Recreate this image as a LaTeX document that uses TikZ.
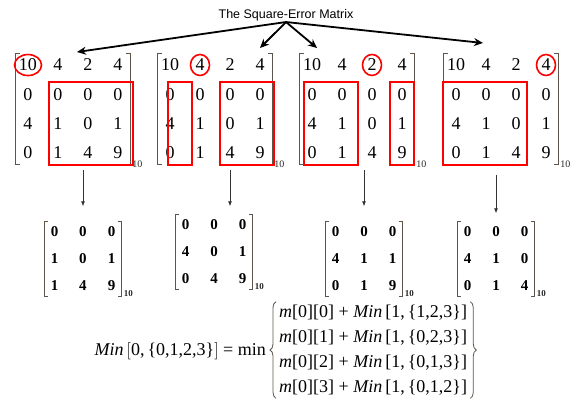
\documentclass[tikz,border=0pt]{standalone}
\usepackage{fontspec}
\setmainfont{Liberation Serif}
\newfontfamily\titlefont{Liberation Sans}
\usetikzlibrary{arrows.meta,matrix,fit,shapes.geometric,decorations.pathreplacing}

\definecolor{brk}{RGB}{95,85,75}

\tikzset{
  bigmat/.style={matrix of nodes, inner sep=0pt, column sep=6pt, row sep=7.3pt,
    nodes={minimum width=24pt, minimum height=22pt, inner sep=0pt, font=\fontsize{18}{18}\selectfont}},
  smallmat/.style={matrix of nodes, inner sep=0pt, column sep=8.5pt, row sep=6pt,
    nodes={minimum width=20pt, minimum height=21pt, inner sep=0pt, font=\fontsize{15}{15}\selectfont\bfseries}},
  redbox/.style={draw=red, line width=2pt, inner xsep=0pt, inner ysep=1pt},
  ring/.style={draw=red, line width=1.6pt, ellipse, minimum width=19pt, minimum height=21pt, inner sep=0pt},
  brkline/.style={draw=brk, line width=0.8pt},
  sub/.style={font=\fontsize{10}{10}\selectfont, inner sep=0pt, text=black!85},
  subbold/.style={font=\fontsize{9}{9}\selectfont\bfseries, inner sep=0pt, text=black!85},
  toparr/.style={-{Stealth[length=9pt,width=8pt]}, line width=1.8pt},
  downarr/.style={-{Latex[length=5pt,width=4pt]}, line width=0.7pt, draw=black!80},
  eqtext/.style={font=\fontsize{18}{25}\selectfont, inner sep=0pt},
  curly/.style={decorate, decoration={brace, amplitude=6pt}, line width=0.8pt, draw=brk},
}

% square brackets round a matrix node
\newcommand{\mbrackets}[2]{%
  \draw[brkline] ([xshift=#2]#1.north west) -- (#1.north west) -- (#1.south west) -- ([xshift=#2]#1.south west);
  \draw[brkline] ([xshift=-#2]#1.north east) -- (#1.north east) -- (#1.south east) -- ([xshift=-#2]#1.south east);}

\begin{document}
\begin{tikzpicture}[x=1pt, y=-1pt]
  \useasboundingbox (0,0) rectangle (573,400);

  \node[font=\titlefont\fontsize{12.5}{13}\selectfont, inner sep=1pt] (title) at (286,15) {The Square-Error Matrix};

  % the four copies of the matrix
  \matrix (B1) [bigmat] at (73,109) {10 & 4 & 2 & 4\\ 0 & 0 & 0 & 0\\ 4 & 1 & 0 & 1\\ 0 & 1 & 4 & 9\\};
  \matrix (B2) [bigmat] at (215,109) {10 & 4 & 2 & 4\\ 0 & 0 & 0 & 0\\ 4 & 1 & 0 & 1\\ 0 & 1 & 4 & 9\\};
  \matrix (B3) [bigmat] at (357,109) {10 & 4 & 2 & 4\\ 0 & 0 & 0 & 0\\ 4 & 1 & 0 & 1\\ 0 & 1 & 4 & 9\\};
  \matrix (B4) [bigmat] at (501,109) {10 & 4 & 2 & 4\\ 0 & 0 & 0 & 0\\ 4 & 1 & 0 & 1\\ 0 & 1 & 4 & 9\\};
  \mbrackets{B1}{4pt}
  \mbrackets{B2}{4pt}
  \mbrackets{B3}{4pt}
  \mbrackets{B4}{4pt}
  \node[sub, anchor=west] (B1n) at ([xshift=2pt,yshift=0.5pt]B1.south east) {10};
  \node[sub, anchor=west] (B2n) at ([xshift=2pt,yshift=0.5pt]B2.south east) {10};
  \node[sub, anchor=west] (B3n) at ([xshift=2pt,yshift=0.5pt]B3.south east) {10};
  \node[sub, anchor=west] (B4n) at ([xshift=2pt,yshift=0.5pt]B4.south east) {10};

  % chosen entries
  \node[ring, minimum width=27pt] (c1) at (B1-1-1) {};
  \node[ring] (c2) at (B2-1-2) {};
  \node[ring] (c3) at (B3-1-3) {};
  \node[ring] (c4) at (B4-1-4) {};

  % sub-matrices kept
  \node[redbox, fit=(B1-2-2)(B1-4-4), xshift=3pt] (r1) {};
  \node[redbox, fit=(B2-2-1)(B2-4-1), xshift=10pt] (r2a) {};
  \node[redbox, fit=(B2-2-3)(B2-4-4), xshift=2pt] (r2b) {};
  \node[redbox, fit=(B3-2-1)(B3-4-2), xshift=4pt] (r3a) {};
  \node[redbox, fit=(B3-2-4)(B3-4-4)] (r3b) {};
  \node[redbox, fit=(B4-2-1)(B4-4-3), xshift=-1pt] (r4) {};

  % reduced matrices
  \matrix (S1) [smallmat] at (83,259) {0 & 0 & 0\\ 1 & 0 & 1\\ 1 & 4 & 9\\};
  \matrix (S2) [smallmat] at (214,252) {0 & 0 & 0\\ 4 & 0 & 1\\ 0 & 4 & 9\\};
  \matrix (S3) [smallmat] at (364,259) {0 & 0 & 0\\ 4 & 1 & 1\\ 0 & 1 & 9\\};
  \matrix (S4) [smallmat] at (496,259) {0 & 0 & 0\\ 4 & 1 & 0\\ 0 & 1 & 4\\};
  \mbrackets{S1}{4pt}
  \mbrackets{S2}{4pt}
  \mbrackets{S3}{4pt}
  \mbrackets{S4}{4pt}
  \node[subbold, anchor=west] (S1n) at ([xshift=2pt,yshift=3.5pt]S1.south east) {10};
  \node[subbold, anchor=west] (S2n) at ([xshift=2pt,yshift=3.5pt]S2.south east) {10};
  \node[subbold, anchor=west] (S3n) at ([xshift=2pt,yshift=3.5pt]S3.south east) {10};
  \node[subbold, anchor=west] (S4n) at ([xshift=2pt,yshift=3.5pt]S4.south east) {10};

  % arrows from the title
  \coordinate (t1) at (77,52);
  \coordinate (t2) at (260,48);
  \coordinate (t3) at (317,48);
  \coordinate (t4) at (483,43);
  \draw[toparr] (title.south) -- (t1);
  \draw[toparr] (title.south) -- (t2);
  \draw[toparr] (title.south) -- (t3);
  \draw[toparr] (title.south) -- (t4);

  % arrows down to the reduced matrices
  \draw[downarr, shorten <=6pt, shorten >=15pt] (B1.south -| S1.north) -- (S1.north);
  \draw[downarr, shorten <=6pt, shorten >=8pt] (B2-4-3 |- B2.south) -- (B2-4-3 |- S2.north);
  \draw[downarr, shorten <=6pt, shorten >=15pt] (B3.south -| S3.north) -- (S3.north);
  \draw[downarr, shorten <=11pt, shorten >=8pt] (B4.south -| S4.north) -- (S4.north);

  % the recurrence
  \node[eqtext, anchor=east] (lhs) at (266,351)
    {\textit{Min}\,$\bigl[$0,\,\{0,1,2,3\}$\bigr]$ = min};
  \node[eqtext, anchor=west, align=left, inner ysep=3pt] (rhs) at (279,350)
    {\textit{m}[0][0] + \textit{Min}\,[1,\,\{1,2,3\}]\\
     \textit{m}[0][1] + \textit{Min}\,[1,\,\{0,2,3\}]\\
     \textit{m}[0][2] + \textit{Min}\,[1,\,\{0,1,3\}]\\
     \textit{m}[0][3] + \textit{Min}\,[1,\,\{0,1,2\}]};
  \draw[curly] ([xshift=-3pt]rhs.south west) -- ([xshift=-3pt]rhs.north west);
  \draw[curly] ([xshift=3pt]rhs.north east) -- ([xshift=3pt]rhs.south east);
\end{tikzpicture}
\end{document}
